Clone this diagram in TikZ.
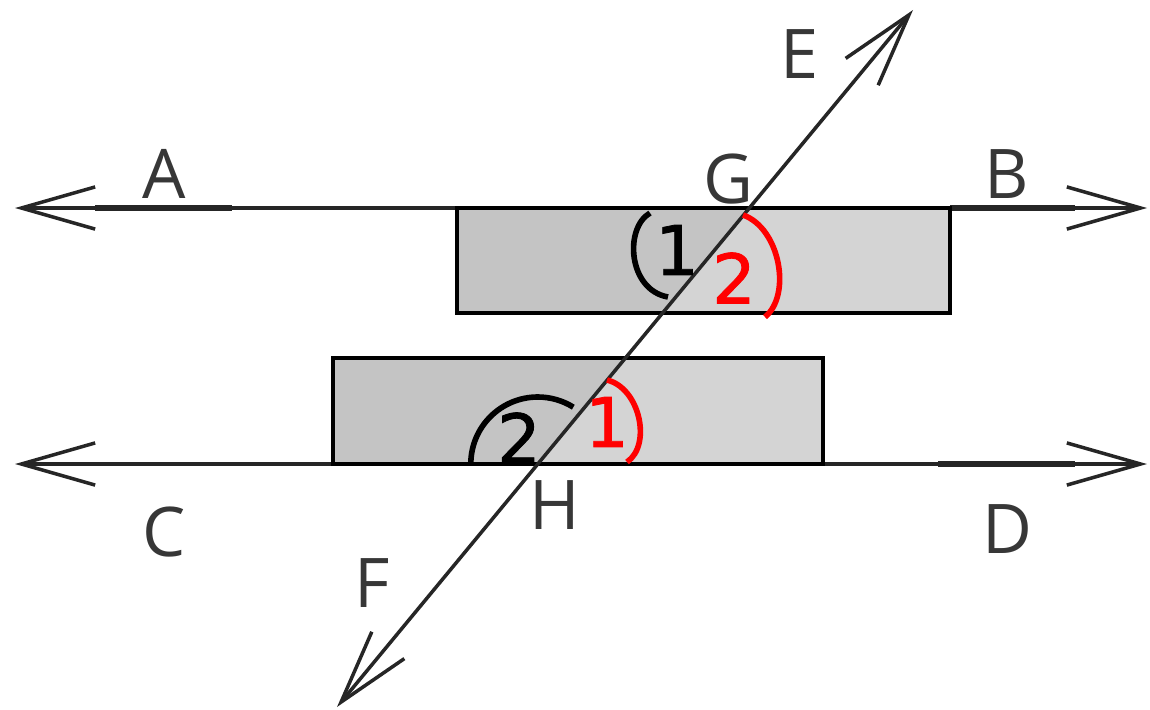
\documentclass[tikz,border=0pt]{standalone}
\usepackage{fontspec}
\setmainfont{Open Sans}
\newfontfamily\digitfont[FakeBold=1.2]{DejaVu Sans}
\usetikzlibrary{arrows.meta}
\definecolor{rectdark}{RGB}{196,196,196}
\definecolor{rectlight}{RGB}{212,212,212}
\definecolor{lblgray}{RGB}{55,55,55}
\tikzset{
  barb/.tip={Straight Barb[length=42pt,width=24pt]},
  thinline/.style={line width=2pt, black!85},
  thickseg/.style={line width=3.8pt, black!85},
  rectedge/.style={line width=2.8pt, black},
  anglearc/.style={line width=3.2pt},
  lbl/.style={inner sep=0pt, text=lblgray, font=\fontsize{39}{40}\selectfont},
  num/.style={inner sep=0pt, font=\digitfont\fontsize{39}{40}\selectfont},
}
\begin{document}
\begin{tikzpicture}[x=0.02cm,y=-0.02cm]
\useasboundingbox (0,0) rectangle (1150,710);
% key points
\coordinate (Aend) at (15,208);
\coordinate (Bend) at (1147,208);
\coordinate (Cend) at (15,464);
\coordinate (Dend) at (1147,464);
\coordinate (Fend) at (337,707);
\coordinate (Eend) at (913,10);
\coordinate (G) at (749.4,208);
\coordinate (H) at (537.8,464);
% rectangles: fills split by the transversal
\fill[rectdark] (457,208) -- (G) -- (662.6,313) -- (457,313) -- cycle;
\fill[rectlight] (G) -- (950,208) -- (950,313) -- (662.6,313) -- cycle;
\fill[rectdark] (333,358) -- (625.4,358) -- (H) -- (333,464) -- cycle;
\fill[rectlight] (625.4,358) -- (823,358) -- (823,464) -- (H) -- cycle;
% parallel lines
\draw[thinline, barb-barb] (Aend) -- (Bend);
\draw[thinline, barb-barb] (Cend) -- (Dend);
\draw[thickseg] (95,208) -- (232,208);
\draw[thickseg] (950,208) -- (1075,208);
\draw[thickseg] (938,464) -- (1075,464);
\draw[line width=2.6pt, black!85] (95,464) -- (232,464);
% rectangle borders
\draw[rectedge] (457,208) rectangle (950,313);
\draw[rectedge] (333,358) rectangle (823,464);
% transversal
\draw[thinline, barb-barb] (Fend) -- (Eend);
% angle arcs
\draw[anglearc, black] (650,213) .. controls (624,228) and (628,290) .. (668,297);
\draw[anglearc, red] (743,215) .. controls (780,228) and (792,295) .. (765,317);
\draw[anglearc, red] (607,380) .. controls (640,388) and (652,445) .. (627,462);
\draw[anglearc, black] (H) ++(180:67) arc[start angle=180, end angle=302, radius=67];
% letter labels
\node[lbl] (la) at (164,174) {A};
\node[lbl] (lb) at (1007,174) {B};
\node[lbl] (lg) at (728,179) {G};
\node[lbl] (le) at (800,54) {E};
\node[lbl] (lc) at (164,532) {C};
\node[lbl] (ld) at (1007,529) {D};
\node[lbl] (lh) at (555,505) {H};
\node[lbl] (lf) at (372,583) {F};
% angle numbers
\node[num, black] (n1t) at (677,250) {1};
\node[num, red] (n2t) at (734,278) {2};
\node[num, black] (n2b) at (519,438) {2};
\node[num, red] (n1b) at (607,422) {1};
\end{tikzpicture}
\end{document}
